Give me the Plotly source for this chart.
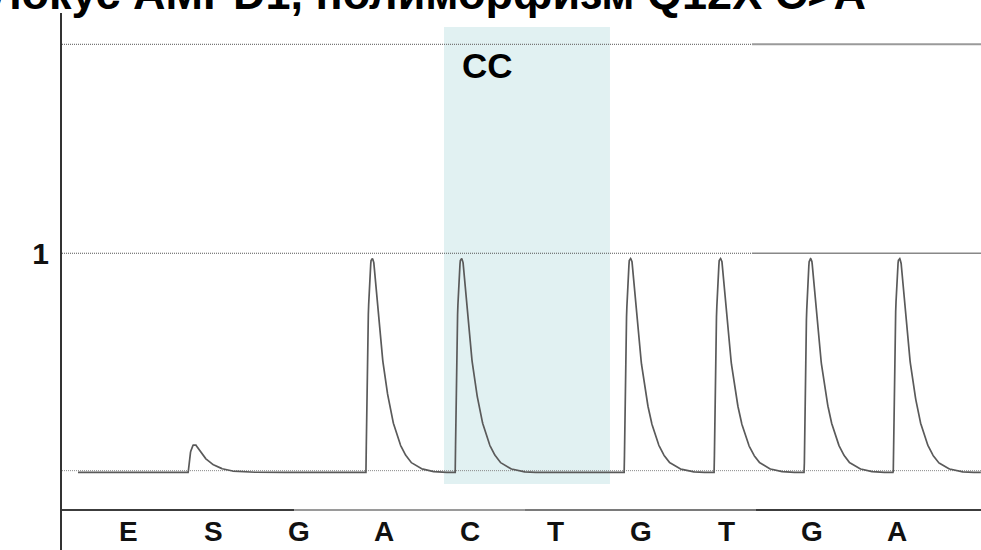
import numpy as np
import plotly.graph_objects as go

# Pyrogram: dispensation order and measured signal heights
dispensations = ["E", "S", "G", "A", "C", "T", "G", "T", "G", "A"]
label_pos = list(range(len(dispensations)))
peak_heights = [0.0, 0.127, 0.0, 0.984, 0.984, 0.0, 0.984, 0.984, 0.984, 0.984]
# signal onset of every dispensation on the run axis (dispensation units)
peak_onsets = [-0.30, 0.713, 1.75, 2.792, 3.836, 4.85, 5.813, 6.865, 7.918, 8.959]

# shape of one light signal: offset from onset vs fraction of peak height
profile_dx = [-0.008, 0.008, 0.032, 0.050, 0.067, 0.082, 0.097, 0.125, 0.156, 0.195,
              0.234, 0.273, 0.312, 0.371, 0.429, 0.506, 0.623, 0.740, 0.857]
profile_frac = [0.006, 0.61, 0.89, 0.99, 1.0, 0.985, 0.92, 0.766, 0.626, 0.50,
                0.39, 0.30, 0.23, 0.15, 0.097, 0.05, 0.019, 0.006, 0.0]

run_start, run_end = -0.585, 9.977
trace_base = -0.008

# genotype call window
call_text = "CC"
call_x = [3.696, 5.637]
call_y = [-0.061, 2.041]

grid_levels = [0.0, 1.0, 1.961]
axis_level = -0.181
label_level = -0.282

title_text = "Локус AMPD1, полиморфизм Q12X C>A"

# assemble the continuous trace from the individual signals
t = np.arange(run_start, run_end, 0.004)
signal = np.full_like(t, trace_base)
for h, t0 in zip(peak_heights, peak_onsets):
    if h > 0:
        signal += h * np.interp(t - t0, profile_dx, profile_frac, left=0.0, right=0.0)

x_lo, x_hi = -0.772, 9.977
y_lo, y_hi = -0.365, 2.105
split = 7.298

FONT = "Liberation Sans, Arial, sans-serif"

fig = go.Figure()
fig.add_trace(go.Scatter(x=t, y=signal, mode="lines",
                         line=dict(color="#5a5a5a", width=1.7),
                         hoverinfo="skip", showlegend=False))

shapes = [
    dict(type="rect", xref="x", yref="y", x0=call_x[0], x1=call_x[1],
         y0=call_y[0], y1=call_y[1], fillcolor="#e1f1f2", line=dict(width=0),
         layer="below"),
    # baseline
    dict(type="line", xref="x", yref="y", x0=x_lo, x1=x_hi, y0=grid_levels[0], y1=grid_levels[0],
         line=dict(color="#8a8a8a", width=1, dash="1px,1px"), layer="below"),
    # level 1
    dict(type="line", xref="x", yref="y", x0=x_lo, x1=split, y0=grid_levels[1], y1=grid_levels[1],
         line=dict(color="#555555", width=1.2, dash="1px,1px"), layer="below"),
    dict(type="line", xref="x", yref="y", x0=split, x1=x_hi, y0=grid_levels[1], y1=grid_levels[1],
         line=dict(color="#888888", width=1.6), layer="below"),
    # top level
    dict(type="line", xref="x", yref="y", x0=x_lo, x1=split, y0=grid_levels[2], y1=grid_levels[2],
         line=dict(color="#777777", width=1.2, dash="1px,1px"), layer="below"),
    dict(type="line", xref="x", yref="y", x0=split, x1=x_hi, y0=grid_levels[2], y1=grid_levels[2],
         line=dict(color="#9a9a9a", width=2), layer="below"),
]
# horizontal axis line, drawn in segments of different tone
for a, b, c in [(x_lo, 1.942, "#3c3c3c"), (1.942, 4.643, "#9a9a9a"),
                (4.643, 7.345, "#7a7a7a"), (7.345, x_hi, "#3c3c3c")]:
    shapes.append(dict(type="line", xref="x", yref="y", x0=a, x1=b,
                       y0=axis_level, y1=axis_level, line=dict(color=c, width=2.2)))

annotations = [
    dict(text=title_text, xref="paper", yref="paper",
         x=(428 - 62) / 919, y=0.985, xanchor="center", yanchor="bottom",
         showarrow=False, font=dict(family=FONT, size=45, color="#000", weight="bold")),
    dict(text=call_text, xref="x", yref="y", x=3.88, y=1.865,
         xanchor="left", yanchor="middle", showarrow=False,
         font=dict(family=FONT, size=35, color="#000", weight="bold")),
]
for p, lab in zip(label_pos, dispensations):
    annotations.append(dict(text=lab, xref="x", yref="y", x=p, y=label_level,
                            xanchor="center", yanchor="middle", showarrow=False,
                            font=dict(family=FONT, size=28, color="#111", weight="bold")))

fig.update_layout(
    width=981, height=550,
    margin=dict(l=62, r=0, t=13, b=0),
    paper_bgcolor="white", plot_bgcolor="white",
    shapes=shapes, annotations=annotations,
    xaxis=dict(range=[x_lo, x_hi], visible=False),
    yaxis=dict(range=[y_lo, y_hi], tickmode="array", tickvals=[1], ticktext=["1"],
               showgrid=False, zeroline=False, ticks="", showline=True,
               linecolor="#333", linewidth=2, ticklabelstandoff=5,
               tickfont=dict(family=FONT, size=30, color="#111", weight="bold")),
)

fig.write_html("out.html")
